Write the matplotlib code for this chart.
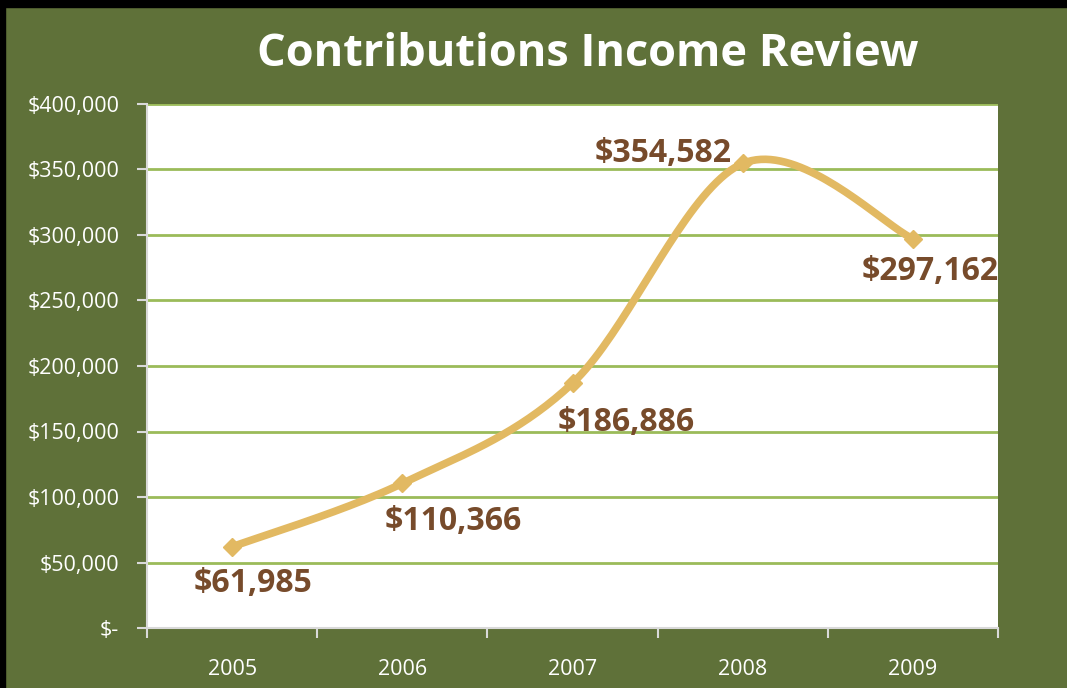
import matplotlib.pyplot as plt
import numpy as np
from matplotlib.patches import Rectangle

years = ['2005', '2006', '2007', '2008', '2009']
income = [61985, 110366, 186886, 354582, 297162]
label_offsets = [(21, -37), (51, -38), (54, -39), (-80, 10), (17, -33)]
y_ticks = [0, 50000, 100000, 150000, 200000, 250000, 300000, 350000, 400000]

bg = '#5f7139'
line_col = '#e2b962'
grid_col = '#9bbb59'
label_col = '#774b2b'

plt.rcParams['font.family'] = ['Open Sans', 'DejaVu Sans']


def smooth(xs, ys, n=40):
    # cubic bezier through each point, catmull-rom style tangents
    xs = np.asarray(xs, float)
    ys = np.asarray(ys, float)
    px = np.concatenate([[xs[0]], xs, [xs[-1]]])
    py = np.concatenate([[ys[0]], ys, [ys[-1]]])
    out_x, out_y = [], []
    t = np.linspace(0, 1, n)
    for i in range(1, len(px) - 2):
        p0 = np.array([px[i], py[i]])
        p3 = np.array([px[i + 1], py[i + 1]])
        c1 = p0 + (np.array([px[i + 1], py[i + 1]]) - np.array([px[i - 1], py[i - 1]])) / 6
        c2 = p3 - (np.array([px[i + 2], py[i + 2]]) - np.array([px[i], py[i]])) / 6
        b = ((1 - t) ** 3)[:, None] * p0 + (3 * (1 - t) ** 2 * t)[:, None] * c1 \
            + (3 * (1 - t) * t ** 2)[:, None] * c2 + (t ** 3)[:, None] * p3
        out_x.extend(b[:, 0])
        out_y.extend(b[:, 1])
    return out_x, out_y


fig = plt.figure(figsize=(10.67, 6.88), dpi=100, facecolor=bg)
ax = fig.add_axes([147 / 1067, 60 / 688, 851 / 1067, 524 / 688])
ax.set_facecolor('white')

x = np.arange(len(years))
sx, sy = smooth(x, income)
ax.plot(sx, sy, color=line_col, lw=5.5, solid_capstyle='round', zorder=3)
ax.plot(x, income, linestyle='none', marker='D', ms=9, color=line_col, zorder=4)

for xi, v, (dx, dy) in zip(x, income, label_offsets):
    ax.annotate('${:,}'.format(v), (xi, v), xytext=(dx, dy), textcoords='offset pixels',
                ha='center', va='center', fontsize=23, fontweight='bold', color=label_col, zorder=5)

ax.set_xlim(-0.5, len(years) - 0.5)
ax.set_ylim(0, 400000)
ax.set_yticks(y_ticks)
ax.set_yticklabels(['$-'] + ['${:,}'.format(v) for v in y_ticks[1:]])
ax.set_xticks(x)
ax.set_xticklabels(years)
ax.set_xticks(np.arange(len(years) + 1) - 0.5, minor=True)
ax.yaxis.grid(True, color=grid_col, lw=2)
ax.set_axisbelow(True)

for side in ['top', 'right']:
    ax.spines[side].set_visible(False)
for side in ['left', 'bottom']:
    ax.spines[side].set_color('#d9d9d9')
    ax.spines[side].set_linewidth(1.5)

ax.tick_params(axis='y', colors='white', labelsize=15.5, length=7, width=1.5, pad=13, color='#d9d9d9')
ax.tick_params(axis='x', which='major', colors='white', labelsize=15.5, length=0, pad=22)
ax.tick_params(axis='x', which='minor', length=7, width=1.5, color='#d9d9d9')
for lbl in ax.get_xticklabels() + ax.get_yticklabels():
    lbl.set_color('white')

fig.text(588 / 1067, 1 - 55 / 688, 'Contributions Income Review', ha='center', va='center',
         color='white', fontsize=32.5, fontweight='bold')

# dark edge along top and left
fig.patches.append(Rectangle((0, 1 - 7 / 688), 1, 7 / 688, transform=fig.transFigure,
                             color='black', zorder=10))
fig.patches.append(Rectangle((0, 0), 5 / 1067, 1, transform=fig.transFigure,
                             color='black', zorder=10))

fig.savefig('out.png', dpi=100, facecolor=bg)
